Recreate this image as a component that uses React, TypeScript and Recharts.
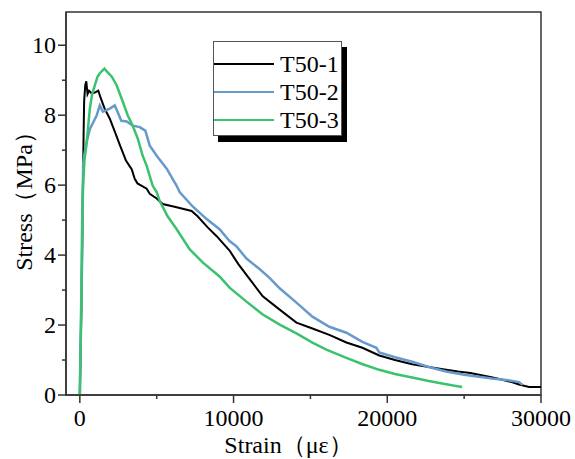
import { Legend, Line, LineChart, ReferenceArea, XAxis, YAxis } from 'recharts';

const strain1 = [
  0, 120, 200, 250, 280, 350, 420, 500, 600, 780, 1000, 1200, 1350, 1600, 1950, 2300, 2600, 3000,
  3380, 3570, 3750, 4350, 4550, 5000, 5390, 6300, 7270, 7660, 8300, 8900, 9740, 10300, 10900, 11900,
  13000, 14090, 15130, 16230, 17340, 18380, 19480, 20500, 21620, 22700, 23830, 24600, 25400, 26300,
  27080, 28100, 28570, 29220, 30000,
];
const stress1 = [
  0, 3, 6, 7.6, 8.4, 8.85, 8.97, 8.6, 8.7, 8.62, 8.65, 8.7, 8.5, 8.2, 7.9, 7.5, 7.15, 6.7,
  6.45, 6.18, 6.05, 5.9, 5.75, 5.62, 5.46, 5.37, 5.26, 5.11, 4.8, 4.54, 4.13, 3.75, 3.4, 2.82,
  2.44, 2.07, 1.9, 1.72, 1.5, 1.35, 1.13, 1.0, 0.88, 0.8, 0.72, 0.67, 0.63, 0.55,
  0.48, 0.37, 0.3, 0.23, 0.23,
];

const strain2 = [
  0, 100, 180, 216, 300, 450, 650, 1100, 1300, 1500, 1950, 2270, 2450, 2700, 3050, 3440, 3900,
  4260, 4550, 5000, 5650, 6300, 6490, 7340, 8250, 9090, 9740, 10190, 10840, 11690, 12340, 13000,
  14090, 15130, 16230, 17340, 18380, 19290, 19480, 20500, 21620, 22700, 23830, 25000, 25970, 26800,
  27730, 28570, 28800,
];
const stress2 = [
  0, 2.5, 5.0, 6.6, 6.9, 7.24, 7.6, 8.0, 8.28, 8.1, 8.19, 8.28, 8.1, 7.84, 7.82, 7.7, 7.66,
  7.56, 7.13, 6.84, 6.47, 5.98, 5.8, 5.39, 5.03, 4.74, 4.4, 4.25, 3.9, 3.6, 3.35, 3.05,
  2.64, 2.24, 1.95, 1.78, 1.52, 1.35, 1.22, 1.08, 0.95, 0.8, 0.67, 0.58, 0.52, 0.47,
  0.43, 0.37, 0.29,
];

const strain3 = [
  0, 100, 150, 200, 300, 450, 650, 800, 975, 1150, 1300, 1600, 1750, 2080, 2400, 2790, 3120, 3440,
  3770, 4090, 4350, 4550, 4740, 5000, 5190, 5710, 6300, 7140, 7990, 9090, 9740, 10840, 11900, 13000,
  14090, 15130, 16040, 17340, 18400, 19480, 20500, 21620, 22700, 23830, 24300, 24870,
];
const stress3 = [
  0, 3, 5, 5.9, 6.7, 7.24, 8.19, 8.6, 8.85, 9.1, 9.2, 9.33, 9.25, 9.1, 8.85, 8.39, 7.99, 7.7,
  7.33, 6.84, 6.55, 6.26, 5.98, 5.8, 5.55, 5.11, 4.74, 4.17, 3.79, 3.39, 3.07, 2.67, 2.3, 2.01,
  1.76, 1.5, 1.3, 1.06, 0.88, 0.72, 0.6, 0.5, 0.4, 0.31, 0.27, 0.23,
];

const xTicks = [0, 5000, 10000, 15000, 20000, 25000, 30000];
const yTicks = [0, 1, 2, 3, 4, 5, 6, 7, 8, 9, 10];

const toPoints = (xs: number[], ys: number[]) => xs.map((x, i) => ({ strain: x, stress: ys[i] }));

const series = [
  { name: 'T50-1', color: '#000000', width: 2, data: toPoints(strain1, stress1) },
  { name: 'T50-2', color: '#6699cc', width: 2.5, data: toPoints(strain2, stress2) },
  { name: 'T50-3', color: '#3cc26f', width: 2.5, data: toPoints(strain3, stress3) },
];

const FONT = '"Liberation Serif", "DejaVu Serif", serif';
const AXIS = '#333333';

const XTick = (props: any) => {
  const { x, y, payload } = props;
  const major = payload.value % 10000 === 0;
  return (
    <g>
      <line x1={x} x2={x} y1={y} y2={y + (major ? 8 : 4)} stroke={AXIS} strokeWidth={1.5} />
      {major && (
        <text x={x} y={y + 31} textAnchor="middle" fontSize={24} style={{ fontFamily: FONT }} fill="#000">
          {payload.value}
        </text>
      )}
    </g>
  );
};

const YTick = (props: any) => {
  const { x, y, payload } = props;
  const major = payload.value % 2 === 0;
  return (
    <g>
      <line x1={x - (major ? 8 : 4)} x2={x} y1={y} y2={y} stroke={AXIS} strokeWidth={1.5} />
      {major && (
        <text x={x - 10} y={y + 8} textAnchor="end" fontSize={24} style={{ fontFamily: FONT }} fill="#000">
          {payload.value}
        </text>
      )}
    </g>
  );
};

const LegendBox = (props: any) => {
  const { payload } = props;
  return (
    <div
      style={{
        width: 129,
        height: 95,
        border: '1px solid #555',
        background: '#fff',
        boxShadow: '5px 6px 0 #000',
        paddingTop: 8,
        boxSizing: 'border-box',
      }}
    >
      {(payload || []).map((p: any) => (
        <div key={p.value} style={{ display: 'flex', alignItems: 'center', height: 28 }}>
          <div style={{ width: 60, height: 2.5, background: p.color }} />
          <span style={{ marginLeft: 6, fontFamily: FONT, fontSize: 24, color: '#000', lineHeight: '28px' }}>
            {p.value}
          </span>
        </div>
      ))}
    </div>
  );
};

export default function App() {
  return (
    <div
      style={{
        position: 'fixed',
        left: 0,
        top: 0,
        width: 575,
        height: 459,
        background: '#fff',
        fontFamily: FONT,
      }}
    >
      <LineChart width={575} height={459} margin={{ top: 12, right: 34, left: 10, bottom: 10 }}>
        <XAxis
          type="number"
          dataKey="strain"
          domain={[-900, 30000]}
          ticks={xTicks}
          allowDataOverflow
          height={54}
          tickSize={0}
          tickMargin={0}
          tickLine={false}
          tick={XTick}
          axisLine={{ stroke: AXIS, strokeWidth: 1.5 }}
          label={({ viewBox }: any) => (
            <text
              x={viewBox.x + viewBox.width / 2 - 15}
              y={viewBox.y + 58}
              textAnchor="middle"
              fontSize={24}
              style={{ fontFamily: FONT }}
              fill="#000"
            >
              Strain（με）
            </text>
          )}
        />
        <YAxis
          type="number"
          dataKey="stress"
          domain={[0, 10.95]}
          ticks={yTicks}
          allowDataOverflow
          width={56}
          tickSize={0}
          tickMargin={0}
          tickLine={false}
          tick={YTick}
          axisLine={{ stroke: AXIS, strokeWidth: 1.5 }}
          label={({ viewBox }: any) => (
            <text
              x={24}
              y={viewBox.y + viewBox.height / 2 - 8}
              transform={`rotate(-90, 24, ${viewBox.y + viewBox.height / 2 - 8})`}
              textAnchor="middle"
              dominantBaseline="central"
              fontSize={24}
              style={{ fontFamily: FONT }}
              fill="#000"
            >
              Stress（MPa）
            </text>
          )}
        />
        <ReferenceArea x1={-900} x2={30000} y1={0} y2={10.95} fill="none" stroke={AXIS} strokeWidth={1.5} />
        {series.map((s) => (
          <Line
            key={s.name}
            data={s.data}
            dataKey="stress"
            name={s.name}
            type="linear"
            stroke={s.color}
            strokeWidth={s.width}
            dot={false}
            isAnimationActive={false}
          />
        ))}
        <Legend
          layout="horizontal"
          verticalAlign="middle"
          align="center"
          content={LegendBox}
          wrapperStyle={{ left: 213, top: 41, width: 135, height: 100 }}
        />
      </LineChart>
    </div>
  );
}
